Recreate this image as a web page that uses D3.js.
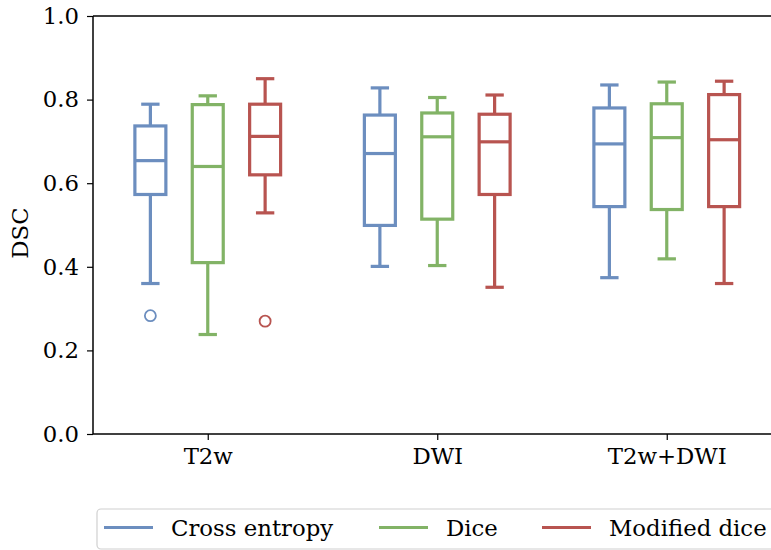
<!DOCTYPE html>
<html>
<head>
<meta charset="utf-8">
<script src="https://cdn.jsdelivr.net/npm/d3@7"></script>
<style>
  body { margin: 0; background: #fff; }
  text { font-family: "DejaVu Serif", serif; fill: #000; }
</style>
</head>
<body>
<svg id="chart" width="771" height="550"></svg>
<script>
const groups = ["T2w", "DWI", "T2w+DWI"];
const series = ["Cross entropy", "Dice", "Modified dice"];
const colors = ["#6c8ebf", "#82b366", "#b85450"];
const yTicks = [0, 0.2, 0.4, 0.6, 0.8, 1.0];

// [whisker low, q1, median, q3, whisker high] per group, one array per series
const crossEntropy = [
  [0.360, 0.573, 0.654, 0.737, 0.789],
  [0.401, 0.499, 0.671, 0.763, 0.828],
  [0.374, 0.544, 0.694, 0.780, 0.835]
];
const dice = [
  [0.238, 0.410, 0.640, 0.788, 0.809],
  [0.403, 0.514, 0.711, 0.768, 0.805],
  [0.419, 0.537, 0.709, 0.790, 0.842]
];
const modifiedDice = [
  [0.529, 0.620, 0.712, 0.789, 0.850],
  [0.351, 0.573, 0.699, 0.765, 0.811],
  [0.360, 0.544, 0.704, 0.812, 0.844]
];
// outliers: [group index, value]
const crossEntropyOut = [[0, 0.283]];
const diceOut = [];
const modifiedDiceOut = [[0, 0.270]];

const stats = [crossEntropy, dice, modifiedDice];
const outliers = [crossEntropyOut, diceOut, modifiedDiceOut];

const svg = d3.select("#chart");
const plotLeft = 93, plotTop = 16, plotBottom = 434;
const step = 229.5;
const fontSize = "22.8px";

const x = d3.scaleLinear().domain([-0.5, 2.5]).range([plotLeft, plotLeft + 3 * step]);
const y = d3.scaleLinear().domain([0, 1]).range([plotBottom, plotTop]);

const hueOffset = [-0.25, 0, 0.25];
const boxW = 0.135;
const capW = 0.08;

// y axis
const yAxis = svg.append("g")
  .attr("transform", `translate(${plotLeft},0)`)
  .call(d3.axisLeft(y).tickValues(yTicks).tickFormat(d3.format(".1f")).tickSize(6).tickPadding(8));
yAxis.select(".domain").remove();
yAxis.selectAll("line").attr("stroke", "#000").attr("stroke-width", 1.2);
yAxis.selectAll("text").style("font-size", fontSize).style("font-family", "DejaVu Serif");

// x axis
const xAxis = svg.append("g")
  .attr("transform", `translate(0,${plotBottom})`)
  .call(d3.axisBottom(x).tickValues([0, 1, 2]).tickFormat(i => groups[i]).tickSize(6).tickPadding(8));
xAxis.select(".domain").remove();
xAxis.selectAll("line").attr("stroke", "#000").attr("stroke-width", 1.2);
xAxis.selectAll("text").style("font-size", fontSize).style("font-family", "DejaVu Serif");

// spines
svg.append("line").attr("x1", plotLeft).attr("x2", plotLeft).attr("y1", plotTop).attr("y2", plotBottom)
  .attr("stroke", "#000").attr("stroke-width", 1.5);
svg.append("line").attr("x1", plotLeft).attr("x2", 800).attr("y1", plotBottom).attr("y2", plotBottom)
  .attr("stroke", "#000").attr("stroke-width", 1.5);
svg.append("line").attr("x1", plotLeft).attr("x2", 800).attr("y1", plotTop).attr("y2", plotTop)
  .attr("stroke", "#000").attr("stroke-width", 1.5);

// y label
svg.append("text")
  .attr("transform", `translate(28,233) rotate(-90)`)
  .attr("text-anchor", "middle")
  .style("font-size", fontSize)
  .text("DSC");

// boxes
stats.forEach((s, si) => {
  const g = svg.append("g").attr("stroke", colors[si]).attr("stroke-width", 3.2).attr("fill", "none");
  s.forEach((d, gi) => {
    const c = gi + hueOffset[si];
    const [lo, q1, med, q3, hi] = d;
    g.append("line").attr("x1", x(c)).attr("x2", x(c)).attr("y1", y(lo)).attr("y2", y(q1));
    g.append("line").attr("x1", x(c)).attr("x2", x(c)).attr("y1", y(q3)).attr("y2", y(hi));
    g.append("line").attr("x1", x(c - capW / 2)).attr("x2", x(c + capW / 2)).attr("y1", y(lo)).attr("y2", y(lo));
    g.append("line").attr("x1", x(c - capW / 2)).attr("x2", x(c + capW / 2)).attr("y1", y(hi)).attr("y2", y(hi));
    g.append("rect")
      .attr("x", x(c - boxW / 2)).attr("width", x(c + boxW / 2) - x(c - boxW / 2))
      .attr("y", y(q3)).attr("height", y(q1) - y(q3))
      .attr("fill", "#fff");
    g.append("line").attr("x1", x(c - boxW / 2)).attr("x2", x(c + boxW / 2)).attr("y1", y(med)).attr("y2", y(med));
  });
  outliers[si].forEach(([gi, v]) => {
    g.append("circle")
      .attr("cx", x(gi + hueOffset[si])).attr("cy", y(v)).attr("r", 5.5)
      .attr("stroke-width", 1.8);
  });
});

// legend
const legend = svg.append("g");
legend.append("rect")
  .attr("x", 97).attr("y", 509).attr("width", 700).attr("height", 40).attr("rx", 4)
  .attr("fill", "#fff").attr("stroke", "#d0d0d0").attr("stroke-width", 1.2);
const legendX = [104, 379, 542];
series.forEach((name, i) => {
  legend.append("line")
    .attr("x1", legendX[i]).attr("x2", legendX[i] + 49).attr("y1", 527.5).attr("y2", 527.5)
    .attr("stroke", colors[i]).attr("stroke-width", 3);
  legend.append("text")
    .attr("x", legendX[i] + 67).attr("y", 535.5)
    .style("font-size", fontSize)
    .text(name);
});
</script>
</body>
</html>
